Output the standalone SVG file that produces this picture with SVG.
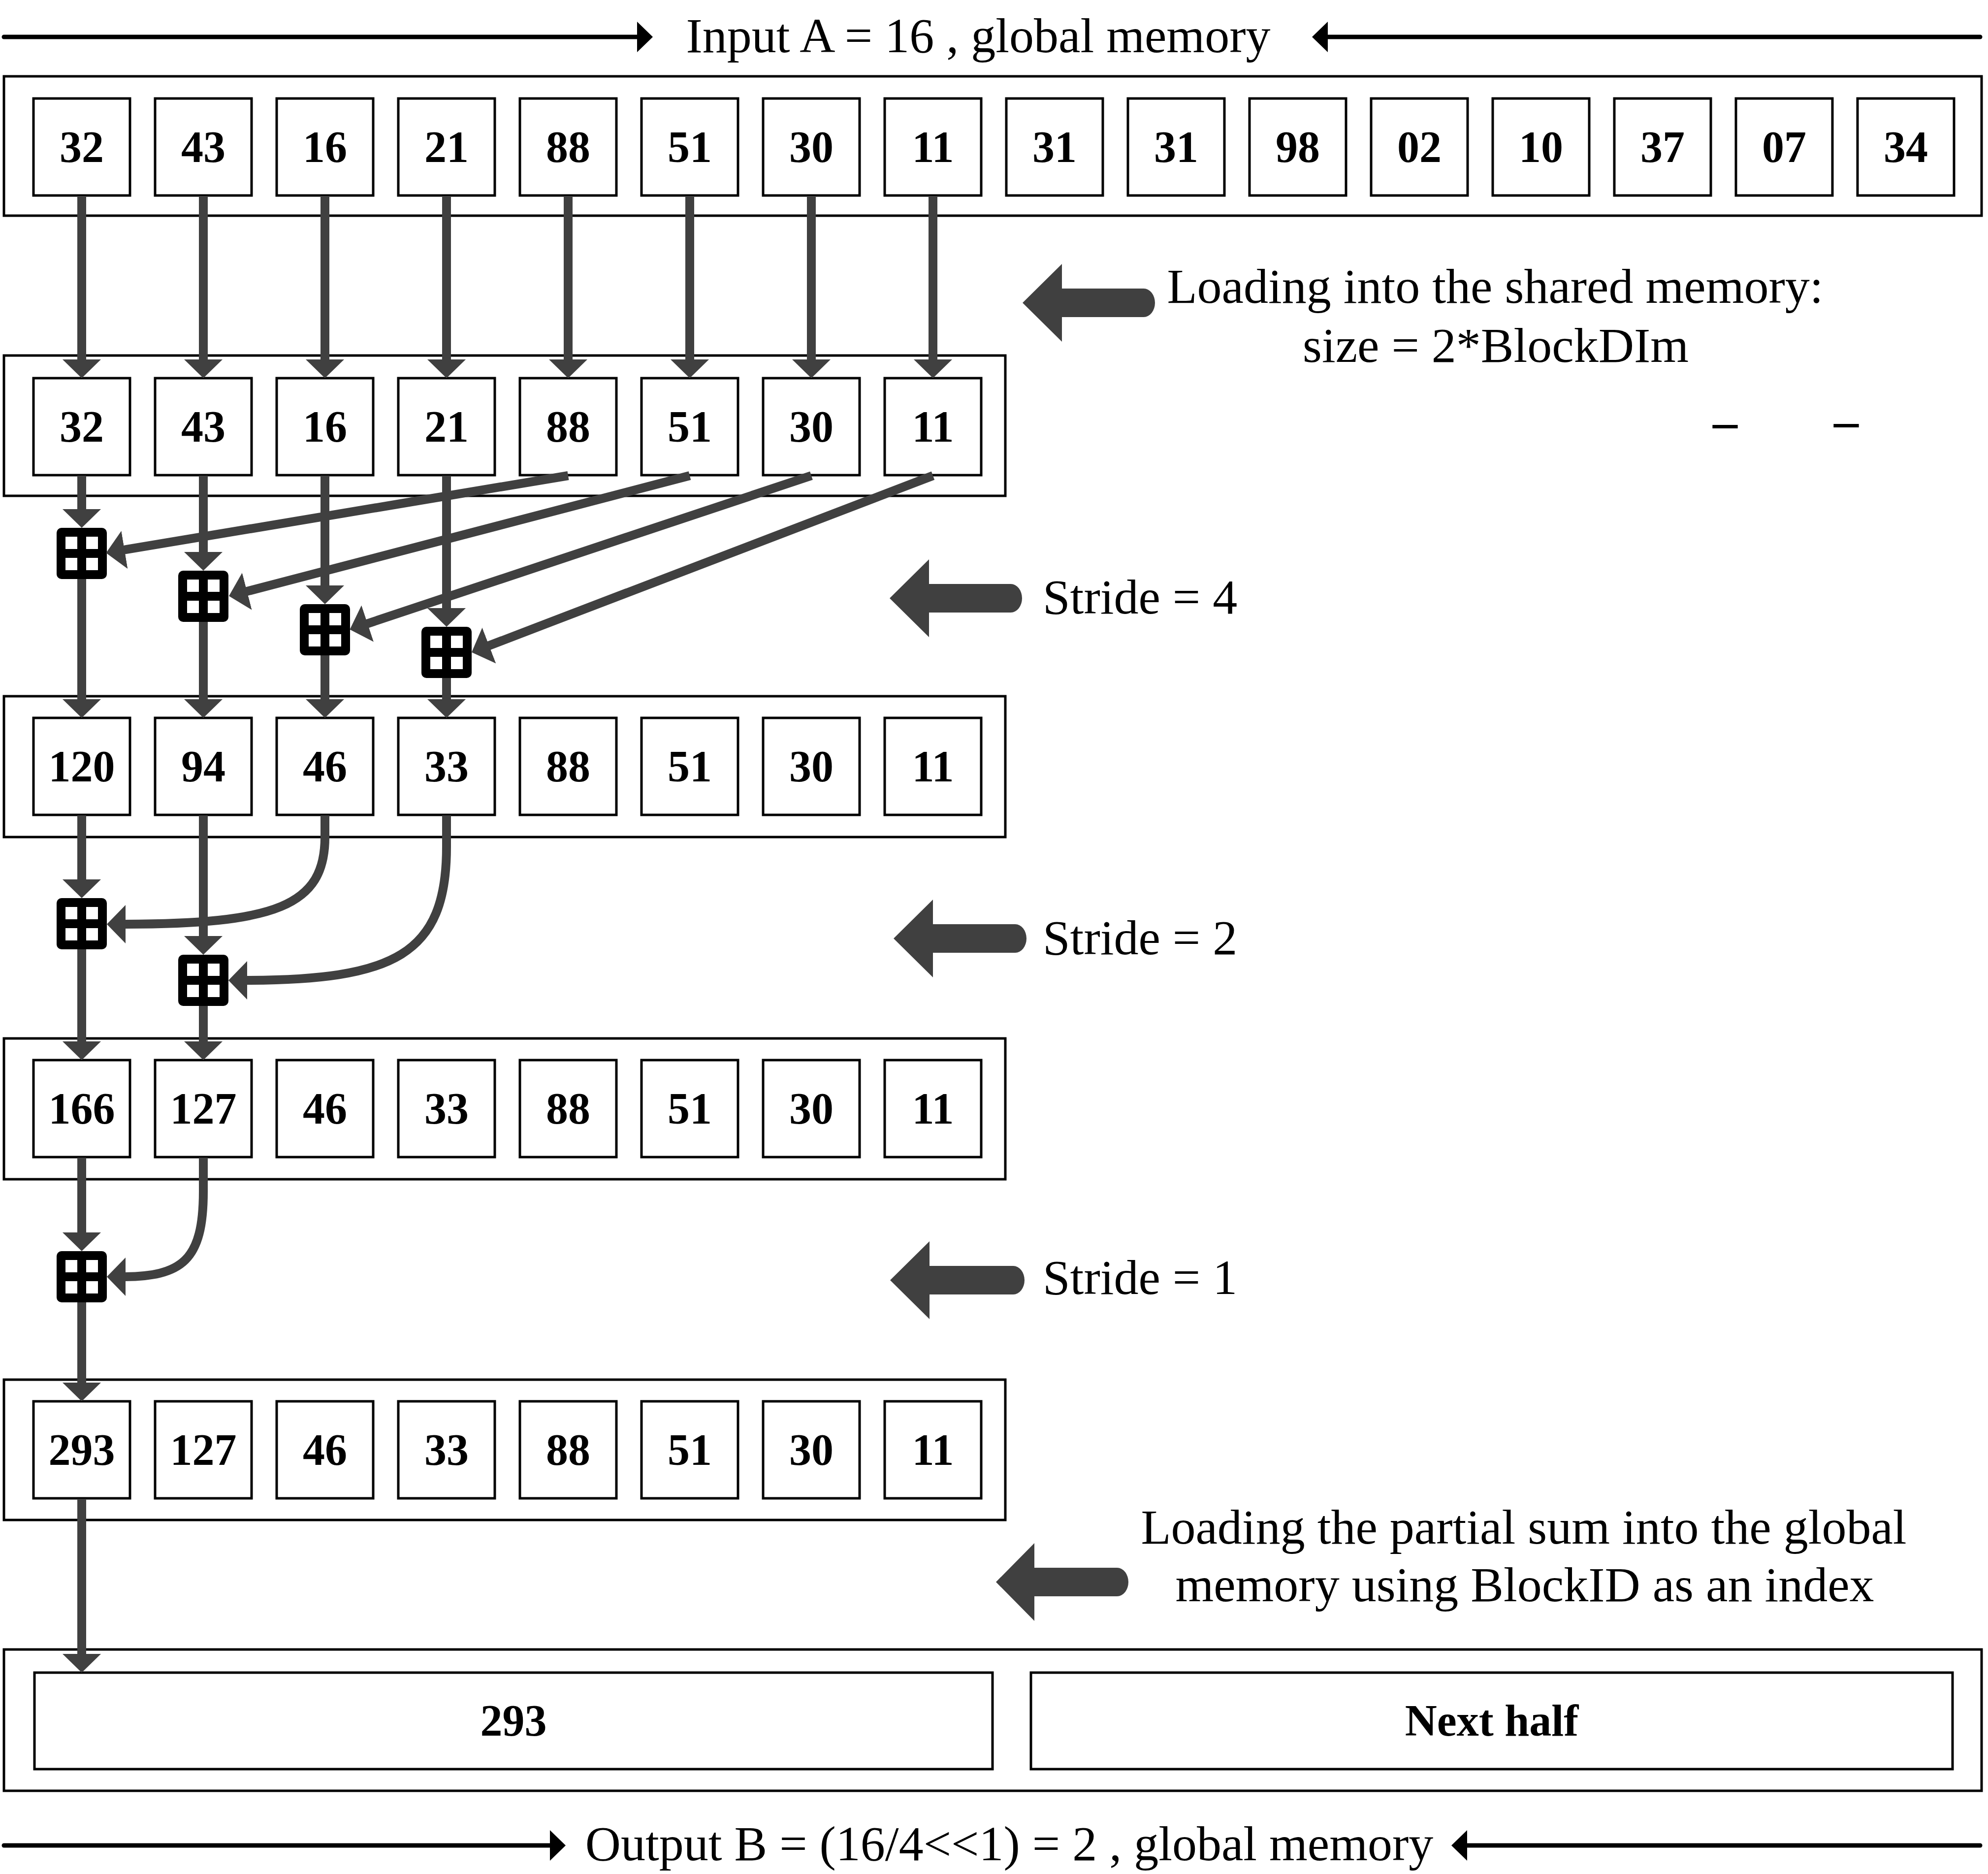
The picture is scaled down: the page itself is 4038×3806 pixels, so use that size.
<svg xmlns="http://www.w3.org/2000/svg" xmlns:xlink="http://www.w3.org/1999/xlink" width="4038" height="3806" viewBox="0 0 4038 3806">
<style>
.bg{fill:#fff}
.box{fill:none;stroke:#000;stroke-width:5}
.cell{fill:#fff;stroke:#000;stroke-width:5}
.num{font-family:"Liberation Serif","Times New Roman",serif;font-weight:bold;font-size:90px;text-anchor:middle;fill:#000}
.lbl{font-family:"Liberation Serif","Times New Roman",serif;font-size:100px;fill:#000}
.mid{text-anchor:middle}
.con{fill:none;stroke:#404040;stroke-width:18;marker-end:url(#ah)}
.blk{fill:none;stroke:#000;stroke-width:9;stroke-linecap:round;marker-end:url(#bh)}
.barrow{fill:#404040}
</style>
<defs>
<marker id="ah" markerUnits="userSpaceOnUse" viewBox="0 0 38 78" markerWidth="38" markerHeight="78" refX="8" refY="39" orient="auto">
<path d="M0,0 L38,39 L0,78 Z" fill="#404040"/>
</marker>
<marker id="bh" markerUnits="userSpaceOnUse" viewBox="0 0 32 62" markerWidth="32" markerHeight="62" refX="4" refY="31" orient="auto">
<path d="M0,0 L32,31 L0,62 Z" fill="#000"/>
</marker>
<symbol id="adder" viewBox="0 0 102 104">
<rect x="0" y="0" width="102" height="104" rx="10" fill="#000"/>
<rect x="18" y="18" width="24" height="25" fill="#fff"/>
<rect x="60" y="18" width="24" height="25" fill="#fff"/>
<rect x="18" y="61" width="24" height="25" fill="#fff"/>
<rect x="60" y="61" width="24" height="25" fill="#fff"/>
</symbol>
</defs>
<rect class="bg" x="0" y="0" width="4038" height="3806"/>

<g id="title-input">
<text class="lbl mid" x="1987" y="106" font-size="98">Input A = 16 , global memory</text>
</g>
<g id="title-output">
<text class="lbl mid" x="2050" y="3778" font-size="98">Output B = (16/4&lt;&lt;1) = 2 , global memory</text>
</g>

<g id="row1">
<rect class="box" x="8" y="155" width="4017" height="283"/>
<g id="r1c1"><rect class="cell" x="68" y="200" width="196" height="197"/><text class="num" x="166" y="329">32</text></g>
<g id="r1c2"><rect class="cell" x="315" y="200" width="196" height="197"/><text class="num" x="413" y="329">43</text></g>
<g id="r1c3"><rect class="cell" x="562" y="200" width="196" height="197"/><text class="num" x="660" y="329">16</text></g>
<g id="r1c4"><rect class="cell" x="809" y="200" width="196" height="197"/><text class="num" x="907" y="329">21</text></g>
<g id="r1c5"><rect class="cell" x="1056" y="200" width="196" height="197"/><text class="num" x="1154" y="329">88</text></g>
<g id="r1c6"><rect class="cell" x="1303" y="200" width="196" height="197"/><text class="num" x="1401" y="329">51</text></g>
<g id="r1c7"><rect class="cell" x="1550" y="200" width="196" height="197"/><text class="num" x="1648" y="329">30</text></g>
<g id="r1c8"><rect class="cell" x="1797" y="200" width="196" height="197"/><text class="num" x="1895" y="329">11</text></g>
<g id="r1c9"><rect class="cell" x="2044" y="200" width="196" height="197"/><text class="num" x="2142" y="329">31</text></g>
<g id="r1c10"><rect class="cell" x="2291" y="200" width="196" height="197"/><text class="num" x="2389" y="329">31</text></g>
<g id="r1c11"><rect class="cell" x="2538" y="200" width="196" height="197"/><text class="num" x="2636" y="329">98</text></g>
<g id="r1c12"><rect class="cell" x="2785" y="200" width="196" height="197"/><text class="num" x="2883" y="329">02</text></g>
<g id="r1c13"><rect class="cell" x="3032" y="200" width="196" height="197"/><text class="num" x="3130" y="329">10</text></g>
<g id="r1c14"><rect class="cell" x="3279" y="200" width="196" height="197"/><text class="num" x="3377" y="329">37</text></g>
<g id="r1c15"><rect class="cell" x="3526" y="200" width="196" height="197"/><text class="num" x="3624" y="329">07</text></g>
<g id="r1c16"><rect class="cell" x="3773" y="200" width="196" height="197"/><text class="num" x="3871" y="329">34</text></g>
</g>

<g id="row2">
<rect class="box" x="8" y="722" width="2034" height="285"/>
<g id="r2c1"><rect class="cell" x="68" y="768" width="196" height="197"/><text class="num" x="166" y="897">32</text></g>
<g id="r2c2"><rect class="cell" x="315" y="768" width="196" height="197"/><text class="num" x="413" y="897">43</text></g>
<g id="r2c3"><rect class="cell" x="562" y="768" width="196" height="197"/><text class="num" x="660" y="897">16</text></g>
<g id="r2c4"><rect class="cell" x="809" y="768" width="196" height="197"/><text class="num" x="907" y="897">21</text></g>
<g id="r2c5"><rect class="cell" x="1056" y="768" width="196" height="197"/><text class="num" x="1154" y="897">88</text></g>
<g id="r2c6"><rect class="cell" x="1303" y="768" width="196" height="197"/><text class="num" x="1401" y="897">51</text></g>
<g id="r2c7"><rect class="cell" x="1550" y="768" width="196" height="197"/><text class="num" x="1648" y="897">30</text></g>
<g id="r2c8"><rect class="cell" x="1797" y="768" width="196" height="197"/><text class="num" x="1895" y="897">11</text></g>
</g>

<g id="row3">
<rect class="box" x="8" y="1414" width="2034" height="286"/>
<g id="r3c1"><rect class="cell" x="68" y="1458" width="196" height="197"/><text class="num" x="166" y="1587">120</text></g>
<g id="r3c2"><rect class="cell" x="315" y="1458" width="196" height="197"/><text class="num" x="413" y="1587">94</text></g>
<g id="r3c3"><rect class="cell" x="562" y="1458" width="196" height="197"/><text class="num" x="660" y="1587">46</text></g>
<g id="r3c4"><rect class="cell" x="809" y="1458" width="196" height="197"/><text class="num" x="907" y="1587">33</text></g>
<g id="r3c5"><rect class="cell" x="1056" y="1458" width="196" height="197"/><text class="num" x="1154" y="1587">88</text></g>
<g id="r3c6"><rect class="cell" x="1303" y="1458" width="196" height="197"/><text class="num" x="1401" y="1587">51</text></g>
<g id="r3c7"><rect class="cell" x="1550" y="1458" width="196" height="197"/><text class="num" x="1648" y="1587">30</text></g>
<g id="r3c8"><rect class="cell" x="1797" y="1458" width="196" height="197"/><text class="num" x="1895" y="1587">11</text></g>
</g>

<g id="row4">
<rect class="box" x="8" y="2109" width="2034" height="286"/>
<g id="r4c1"><rect class="cell" x="68" y="2153" width="196" height="197"/><text class="num" x="166" y="2282">166</text></g>
<g id="r4c2"><rect class="cell" x="315" y="2153" width="196" height="197"/><text class="num" x="413" y="2282">127</text></g>
<g id="r4c3"><rect class="cell" x="562" y="2153" width="196" height="197"/><text class="num" x="660" y="2282">46</text></g>
<g id="r4c4"><rect class="cell" x="809" y="2153" width="196" height="197"/><text class="num" x="907" y="2282">33</text></g>
<g id="r4c5"><rect class="cell" x="1056" y="2153" width="196" height="197"/><text class="num" x="1154" y="2282">88</text></g>
<g id="r4c6"><rect class="cell" x="1303" y="2153" width="196" height="197"/><text class="num" x="1401" y="2282">51</text></g>
<g id="r4c7"><rect class="cell" x="1550" y="2153" width="196" height="197"/><text class="num" x="1648" y="2282">30</text></g>
<g id="r4c8"><rect class="cell" x="1797" y="2153" width="196" height="197"/><text class="num" x="1895" y="2282">11</text></g>
</g>

<g id="row5">
<rect class="box" x="8" y="2802" width="2034" height="285"/>
<g id="r5c1"><rect class="cell" x="68" y="2846" width="196" height="197"/><text class="num" x="166" y="2975">293</text></g>
<g id="r5c2"><rect class="cell" x="315" y="2846" width="196" height="197"/><text class="num" x="413" y="2975">127</text></g>
<g id="r5c3"><rect class="cell" x="562" y="2846" width="196" height="197"/><text class="num" x="660" y="2975">46</text></g>
<g id="r5c4"><rect class="cell" x="809" y="2846" width="196" height="197"/><text class="num" x="907" y="2975">33</text></g>
<g id="r5c5"><rect class="cell" x="1056" y="2846" width="196" height="197"/><text class="num" x="1154" y="2975">88</text></g>
<g id="r5c6"><rect class="cell" x="1303" y="2846" width="196" height="197"/><text class="num" x="1401" y="2975">51</text></g>
<g id="r5c7"><rect class="cell" x="1550" y="2846" width="196" height="197"/><text class="num" x="1648" y="2975">30</text></g>
<g id="r5c8"><rect class="cell" x="1797" y="2846" width="196" height="197"/><text class="num" x="1895" y="2975">11</text></g>
</g>

<g id="row6">
<rect class="box" x="8" y="3350" width="4017" height="287"/>
<g id="out-sum"><rect class="cell" x="70" y="3397" width="1946" height="196"/><text class="num" x="1043" y="3525">293</text></g>
<g id="out-next"><rect class="cell" x="2094" y="3397" width="1872" height="196"/><text class="num" x="3030" y="3525">Next half</text></g>
</g>

<g id="adders">
<use id="add-s4-1" href="#adder" x="115" y="1072" width="102" height="104"/>
<use id="add-s4-2" href="#adder" x="362" y="1159" width="102" height="104"/>
<use id="add-s4-3" href="#adder" x="609" y="1227" width="102" height="104"/>
<use id="add-s4-4" href="#adder" x="856" y="1273" width="102" height="104"/>
<use id="add-s2-1" href="#adder" x="115" y="1824" width="102" height="104"/>
<use id="add-s2-2" href="#adder" x="362" y="1939" width="102" height="104"/>
<use id="add-s1-1" href="#adder" x="115" y="2541" width="102" height="104"/>
</g>

<g id="connectors">
<path class="blk" d="M8,75 H1298"/>
<path class="blk" d="M4022,75 H2693"/>
<path class="blk" d="M8,3748 H1121"/>
<path class="blk" d="M4022,3748 H2976"/>

<path class="con" d="M166,398 V738"/>
<path class="con" d="M413,398 V738"/>
<path class="con" d="M660,398 V738"/>
<path class="con" d="M907,398 V738"/>
<path class="con" d="M1154,398 V738"/>
<path class="con" d="M1401,398 V738"/>
<path class="con" d="M1648,398 V738"/>
<path class="con" d="M1895,398 V738"/>

<path class="con" d="M166,966 V1042"/>
<path class="con" d="M413,966 V1129"/>
<path class="con" d="M660,966 V1197"/>
<path class="con" d="M907,966 V1243"/>
<path class="con" d="M1154,966 L245,1118"/>
<path class="con" d="M1401,966 L494,1203"/>
<path class="con" d="M1648,966 L739,1269"/>
<path class="con" d="M1895,966 L986,1314"/>
<path class="con" d="M166,1176 V1428"/>
<path class="con" d="M413,1263 V1428"/>
<path class="con" d="M660,1331 V1428"/>
<path class="con" d="M907,1377 V1428"/>

<path class="con" d="M166,1656 V1794"/>
<path class="con" d="M413,1656 V1909"/>
<path class="con" d="M660,1656 L660,1700 C660,1840 560,1877 247,1877"/>
<path class="con" d="M907,1656 L907,1720 C907,1940 800,1991 494,1991"/>
<path class="con" d="M166,1928 V2123"/>
<path class="con" d="M413,2043 V2123"/>

<path class="con" d="M166,2351 V2511"/>
<path class="con" d="M413,2351 L413,2420 C413,2560 370,2593 247,2593"/>
<path class="con" d="M166,2645 V2816"/>

<path class="con" d="M166,3044 V3367"/>
</g>

<g id="annotations">
<g id="note-shared">
<path class="barrow" d="M2077,615 L2157,536 L2157,586 L2323,586 A23,29 0 0 1 2323,644 L2157,644 L2157,694 Z"/>
<text class="lbl mid" x="3037" y="615">Loading into the shared memory:</text>
<text class="lbl mid" x="3038" y="735">size = 2*BlockDIm</text>
<text class="lbl mid" x="3504" y="890" font-weight="bold" font-size="112">–</text>
<text class="lbl mid" x="3750" y="888" font-weight="bold" font-size="112">–</text>
</g>
<g id="note-stride4">
<path class="barrow" d="M1807,1215 L1887,1136 L1887,1186 L2053,1186 A23,29 0 0 1 2053,1244 L1887,1244 L1887,1294 Z"/>
<text class="lbl" x="2118" y="1246" font-size="102">Stride = 4</text>
</g>
<g id="note-stride2">
<path class="barrow" d="M1815,1906 L1895,1827 L1895,1877 L2062,1877 A23,29 0 0 1 2062,1935 L1895,1935 L1895,1985 Z"/>
<text class="lbl" x="2118" y="1938" font-size="102">Stride = 2</text>
</g>
<g id="note-stride1">
<path class="barrow" d="M1808,2600 L1888,2521 L1888,2571 L2058,2571 A23,29 0 0 1 2058,2629 L1888,2629 L1888,2679 Z"/>
<text class="lbl" x="2118" y="2628" font-size="102">Stride = 1</text>
</g>
<g id="note-partial">
<path class="barrow" d="M2023,3213 L2101,3134 L2101,3184 L2269,3184 A23,29 0 0 1 2269,3242 L2101,3242 L2101,3292 Z"/>
<text class="lbl mid" x="3095" y="3135">Loading the partial sum into the global</text>
<text class="lbl mid" x="3097" y="3252">memory using BlockID as an index</text>
</g>
</g>
</svg>
